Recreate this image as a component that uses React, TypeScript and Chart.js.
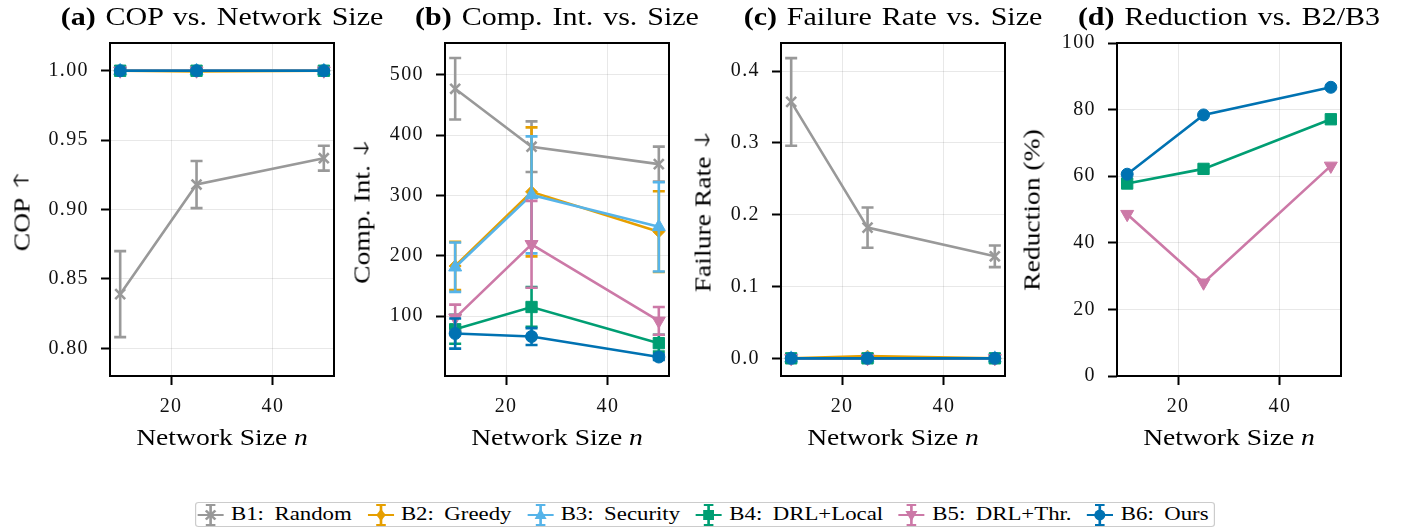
import React, { useEffect, useRef } from 'react';
import { Chart, registerables } from 'chart.js';

Chart.register(...registerables);

// ---------------- data ----------------
const SIZES = [10, 25, 50];
const X_TICKS = [20, 40];

const SERIES_LABELS = ['B1: Random', 'B2: Greedy', 'B3: Security', 'B4: DRL+Local', 'B5: DRL+Thr.', 'B6: Ours'];
const SERIES_COLORS = ['#999999', '#E69F00', '#56B4E9', '#009E73', '#CC79A7', '#0072B2'];

// (a) COP
const COP_MEAN = [
  [0.839, 0.918, 0.937],
  [1.0, 0.9995, 1.0],
  [1.0, 1.0, 1.0],
  [1.0, 1.0, 1.0],
  [1.0, 1.0, 1.0],
  [1.0, 1.0, 1.0],
];
const COP_ERR = [
  [0.031, 0.017, 0.009],
  [0, 0, 0],
  [0, 0, 0],
  [0, 0, 0],
  [0, 0, 0],
  [0, 0, 0],
];
const COP_TICKS = [0.8, 0.85, 0.9, 0.95, 1.0];

// (b) Computational intensity
const COMP_MEAN = [
  [477, 381, 352],
  [183, 306, 240],
  [181, 301, 248],
  [78, 115, 55],
  [97, 219, 92],
  [71, 66, 32],
];
const COMP_ERR = [
  [51, 42, 29],
  [40, 107, 67],
  [41, 97, 74],
  [24, 33, 14],
  [22, 72, 23],
  [25, 14, 5],
];
const COMP_TICKS = [100, 200, 300, 400, 500];

// (c) Failure rate
const FAIL_MEAN = [
  [0.357, 0.182, 0.142],
  [0.0, 0.003, 0.0],
  [0.0, 0.0, 0.0],
  [0.0, 0.0, 0.0],
  [0.0, 0.0, 0.0],
  [0.0, 0.0, 0.0],
];
const FAIL_ERR = [
  [0.061, 0.028, 0.015],
  [0, 0.003, 0],
  [0, 0, 0],
  [0, 0, 0],
  [0, 0, 0],
  [0, 0, 0],
];
const FAIL_TICKS = [0.0, 0.1, 0.2, 0.3, 0.4];

// (d) Reduction vs. B2/B3 (B4, B5, B6)
const RED_B4 = [57.8, 62.2, 77.1];
const RED_B5 = [48.6, 28.0, 63.1];
const RED_B6 = [60.6, 78.4, 86.7];
const RED_TICKS = [0, 20, 40, 60, 80, 100];

// ---------------- panel definitions ----------------
type PanelDef = {
  tag: string;
  title: string;
  yLabel: string;
  yArrow: string;
  yMin: number;
  yMax: number;
  yTicks: number[];
  dec: number;
  series: number[];
  mean: number[][];
  err: number[][] | null;
};

const PANELS: PanelDef[] = [
  { tag: '(a)', title: 'COP vs. Network Size', yLabel: 'COP', yArrow: '\u2191', yMin: 0.78, yMax: 1.02, yTicks: COP_TICKS, dec: 2, series: [0, 1, 2, 3, 4, 5], mean: COP_MEAN, err: COP_ERR },
  { tag: '(b)', title: 'Comp. Int. vs. Size', yLabel: 'Comp. Int.', yArrow: '\u2193', yMin: 0.5, yMax: 553, yTicks: COMP_TICKS, dec: 0, series: [0, 1, 2, 3, 4, 5], mean: COMP_MEAN, err: COMP_ERR },
  { tag: '(c)', title: 'Failure Rate vs. Size', yLabel: 'Failure Rate', yArrow: '\u2193', yMin: -0.0246, yMax: 0.439, yTicks: FAIL_TICKS, dec: 1, series: [0, 1, 2, 3, 4, 5], mean: FAIL_MEAN, err: FAIL_ERR },
  { tag: '(d)', title: 'Reduction vs. B2/B3', yLabel: 'Reduction (%)', yArrow: '', yMin: 0, yMax: 100, yTicks: RED_TICKS, dec: 0, series: [3, 4, 5], mean: [RED_B4, RED_B5, RED_B6], err: null },
];

// ---------------- layout / style ----------------
const FONT = '"Liberation Serif", "Times New Roman", serif';
const PLOT_TOP = 43;
const PLOT_BOTTOM = 376;
const PLOT_W = 224;
const Y_AXIS_W = 100;
const RIGHT_PAD = 12;
const CANVAS_H = 470;
const PLOT_LEFTS = [110, 445, 781, 1117];
const YLABEL_X = [21.5, 362, 703, 1032];
const TEXT_STRETCH = 1.2;
const LINE_W = 2.6;

const MARKERS = [
  { style: 'crossRot', r: 7, bw: 2.6, rot: 0 },
  { style: 'rectRot', r: 6, bw: 1, rot: 0 },
  { style: 'triangle', r: 7.5, bw: 1, rot: 0 },
  { style: 'rect', r: 8, bw: 1, rot: 0 },
  { style: 'triangle', r: 7.5, bw: 1, rot: 180 },
  { style: 'circle', r: 6, bw: 1, rot: 0 },
];

// ---------------- plugins ----------------
const errorBarPlugin = {
  id: 'errorBars',
  afterDatasetDraw(chart: any, args: any) {
    const ds = chart.data.datasets[args.index];
    const errs: number[] | null = ds.errors;
    if (!errs) return;
    const xs = chart.scales.x;
    const ys = chart.scales.y;
    const ctx = chart.ctx;
    ctx.save();
    ctx.strokeStyle = ds.borderColor;
    ctx.lineWidth = LINE_W;
    ds.data.forEach((p: any, i: number) => {
      const e = errs[i];
      if (!e) return;
      const px = xs.getPixelForValue(p.x);
      const top = ys.getPixelForValue(p.y + e);
      const bot = ys.getPixelForValue(p.y - e);
      const cap = 6;
      ctx.beginPath();
      ctx.moveTo(px, top);
      ctx.lineTo(px, bot);
      ctx.moveTo(px - cap, top);
      ctx.lineTo(px + cap, top);
      ctx.moveTo(px - cap, bot);
      ctx.lineTo(px + cap, bot);
      ctx.stroke();
    });
    ctx.restore();
  },
};

const framePlugin = {
  id: 'frame',
  beforeDraw(chart: any) {
    (chart.ctx as any).letterSpacing = '1.4px';
  },
  afterDraw(chart: any) {
    const { ctx, chartArea } = chart;
    ctx.save();
    (ctx as any).letterSpacing = '0px';
    ctx.strokeStyle = '#000';
    ctx.lineWidth = 2;
    ctx.strokeRect(chartArea.left, chartArea.top, chartArea.right - chartArea.left, chartArea.bottom - chartArea.top);
    ctx.restore();
    (ctx as any).letterSpacing = '0px';
  },
};

// ---------------- components ----------------
function Panel({ p, idx }: { p: PanelDef; idx: number }) {
  const ref = useRef<HTMLCanvasElement>(null);
  const plotLeft = PLOT_LEFTS[idx];
  const canvasLeft = plotLeft - Y_AXIS_W;
  const canvasW = Y_AXIS_W + PLOT_W + RIGHT_PAD;

  useEffect(() => {
    const canvas = ref.current;
    if (!canvas) return;
    const datasets = p.series.map((si, k) => {
      const m = MARKERS[si];
      const c = SERIES_COLORS[si];
      return {
        label: SERIES_LABELS[si],
        data: SIZES.map((x, j) => ({ x, y: p.mean[k][j] })),
        errors: p.err ? p.err[k] : null,
        borderColor: c,
        backgroundColor: c,
        pointBackgroundColor: c,
        pointBorderColor: c,
        borderWidth: LINE_W,
        pointStyle: m.style,
        pointRadius: m.r,
        pointBorderWidth: m.bw,
        pointRotation: m.rot,
        tension: 0,
        fill: false,
        order: 10 - si,
      };
    });
    const tickFont = { family: FONT, size: 20 };
    const chart = new Chart(canvas, {
      type: 'line',
      data: { datasets } as any,
      options: {
        animation: false,
        responsive: false,
        maintainAspectRatio: false,
        events: [],
        layout: { padding: { top: PLOT_TOP, right: RIGHT_PAD, left: 0, bottom: 0 } },
        plugins: { legend: { display: false }, tooltip: { enabled: false }, title: { display: false } },
        scales: {
          x: {
            type: 'linear',
            min: 8,
            max: 52,
            afterBuildTicks: (s: any) => {
              s.ticks = X_TICKS.map((v) => ({ value: v }));
            },
            afterFit: (s: any) => {
              s.height = CANVAS_H - PLOT_BOTTOM;
            },
            border: { display: false },
            grid: { color: 'rgba(0,0,0,0.09)', lineWidth: 1, tickColor: '#000', tickLength: 9, tickWidth: 2 },
            ticks: { font: tickFont, color: '#111', padding: 10, autoSkip: false, maxRotation: 0, callback: (v: any) => String(v) },
          },
          y: {
            type: 'linear',
            min: p.yMin,
            max: p.yMax,
            afterBuildTicks: (s: any) => {
              s.ticks = p.yTicks.map((v) => ({ value: v }));
            },
            afterFit: (s: any) => {
              s.width = Y_AXIS_W;
            },
            border: { display: false },
            grid: { color: 'rgba(0,0,0,0.09)', lineWidth: 1, tickColor: '#000', tickLength: 9, tickWidth: 2 },
            ticks: { font: tickFont, color: '#111', padding: 12, autoSkip: false, callback: (v: any) => Number(v).toFixed(p.dec) },
          },
        },
      } as any,
      plugins: [errorBarPlugin, framePlugin] as any,
    });
    return () => chart.destroy();
  }, [p]);

  const cx = plotLeft + PLOT_W / 2;
  return (
    <>
      <canvas
        ref={ref}
        width={canvasW}
        height={CANVAS_H}
        style={{ position: 'absolute', left: canvasLeft, top: 0, width: canvasW, height: CANVAS_H }}
      />
      <div
        style={{
          position: 'absolute', left: cx, top: 4, whiteSpace: 'nowrap', fontSize: 25, lineHeight: '25px',
          wordSpacing: '2px', transform: `translateX(-50%) scaleX(${TEXT_STRETCH})`, color: '#000',
        }}
      >
        <b>{p.tag}</b> {p.title}
      </div>
      <div
        style={{
          position: 'absolute', left: cx, top: 426, whiteSpace: 'nowrap', fontSize: 23, lineHeight: '23px',
          transform: `translateX(-50%) scaleX(${TEXT_STRETCH})`, color: '#000',
        }}
      >
        Network Size <i>n</i>
      </div>
      <div
        style={{
          position: 'absolute', left: YLABEL_X[idx], top: (PLOT_TOP + PLOT_BOTTOM) / 2, whiteSpace: 'nowrap',
          fontSize: 23, lineHeight: '23px', color: '#000',
          transform: `translate(-50%, -50%) rotate(-90deg) scaleX(${TEXT_STRETCH})`,
        }}
      >
        {p.yLabel}
        {p.yArrow ? (
          <span
            style={{
              fontFamily: '"DejaVu Sans", sans-serif', fontSize: 24, fontWeight: 200, marginLeft: 4,
              display: 'inline-block', transform: 'scaleY(0.85) scaleX(1.15)', lineHeight: '23px',
            }}
          >
            {p.yArrow}
          </span>
        ) : null}
      </div>
    </>
  );
}

function LegendMarker({ i }: { i: number }) {
  const c = SERIES_COLORS[i];
  const cx = 11;
  const cy = 11;
  let shape: React.ReactNode = null;
  if (i === 0) {
    shape = (
      <g stroke={c} strokeWidth={2.2}>
        <line x1={cx - 4} y1={cy - 4.5} x2={cx + 4} y2={cy + 4.5} />
        <line x1={cx - 4} y1={cy + 4.5} x2={cx + 4} y2={cy - 4.5} />
      </g>
    );
  } else if (i === 1) {
    shape = <polygon points={`${cx},${cy - 6} ${cx + 4},${cy} ${cx},${cy + 6} ${cx - 4},${cy}`} fill={c} />;
  } else if (i === 2) {
    shape = <polygon points={`${cx},${cy - 6.5} ${cx + 5},${cy + 4} ${cx - 5},${cy + 4}`} fill={c} />;
  } else if (i === 3) {
    shape = <rect x={cx - 4.5} y={cy - 5} width={9} height={10} fill={c} />;
  } else if (i === 4) {
    shape = <polygon points={`${cx},${cy + 6.5} ${cx + 5},${cy - 4} ${cx - 5},${cy - 4}`} fill={c} />;
  } else {
    shape = <ellipse cx={cx} cy={cy} rx={4.6} ry={5.4} fill={c} />;
  }
  return (
    <svg width={22} height={22} style={{ display: 'block', flex: '0 0 auto' }}>
      <g stroke={c} strokeWidth={2.2}>
        <line x1={0} y1={cy} x2={22} y2={cy} />
        <line x1={cx} y1={1} x2={cx} y2={21} />
        <line x1={cx - 4} y1={1} x2={cx + 4} y2={1} />
        <line x1={cx - 4} y1={21} x2={cx + 4} y2={21} />
      </g>
      {shape}
    </svg>
  );
}

function Legend() {
  return (
    <div
      style={{
        position: 'absolute', left: 195, top: 502, width: 1020 / TEXT_STRETCH, height: 25, boxSizing: 'border-box',
        border: '1.5px solid #cccccc', borderRadius: 3, background: '#fff', transformOrigin: 'left top',
        transform: `scaleX(${TEXT_STRETCH})`, display: 'flex', alignItems: 'center', paddingLeft: 1,
        paddingBottom: 2, gap: 13,
      }}
    >
      {SERIES_LABELS.map((lab, i) => (
        <div key={lab} style={{ display: 'flex', alignItems: 'center', gap: 6 }}>
          <div style={{ paddingTop: 2 }}>
            <LegendMarker i={i} />
          </div>
          <span style={{ fontSize: 19, lineHeight: '19px', whiteSpace: 'nowrap', wordSpacing: '4px', color: '#000' }}>{lab}</span>
        </div>
      ))}
    </div>
  );
}

export default function App() {
  return (
    <div
      style={{
        position: 'absolute', left: 0, top: 0, width: 1402, height: 528, background: '#fff', overflow: 'hidden',
        fontFamily: FONT,
      }}
    >
      {PANELS.map((p, i) => (
        <Panel key={p.tag} p={p} idx={i} />
      ))}
      <Legend />
    </div>
  );
}
